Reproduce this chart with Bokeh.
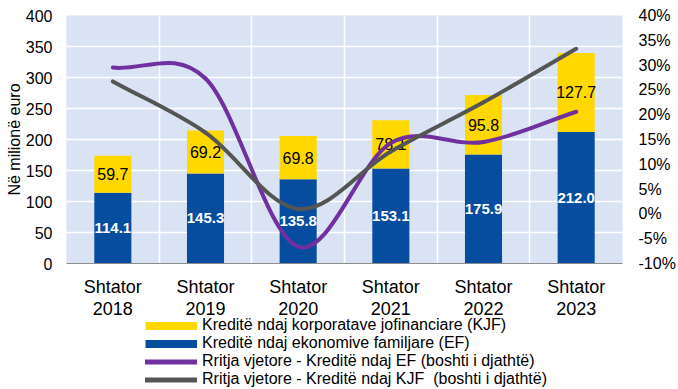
import numpy as np
from bokeh.plotting import figure
from bokeh.layouts import column
from bokeh.models import (ColumnDataSource, Range1d, LinearAxis, FixedTicker,
                          PrintfTickFormatter, Legend, LegendItem)
from bokeh.core.properties import value
from bokeh.embed import file_html
from bokeh.resources import INLINE

# ---- data ----
years = ["2018", "2019", "2020", "2021", "2022", "2023"]
month = "Shtator"
ef = [114.1, 145.3, 135.8, 153.1, 175.9, 212.0]        # Kredite ndaj ekonomive familjare
kjf = [59.7, 69.2, 69.8, 78.1, 95.8, 127.7]            # Kredite ndaj korporatave jofinanciare
growth_ef = [29.5, 27.3, -6.6, 14.3, 14.5, 20.6]       # % right axis
growth_kjf = [26.7, 16.4, 1.0, 12.6, 22.5, 33.3]       # % right axis
left_ticks = [0, 50, 100, 150, 200, 250, 300, 350, 400]
right_ticks = [-10, -5, 0, 5, 10, 15, 20, 25, 30, 35, 40]
legend_labels = ["Kreditë ndaj korporatave jofinanciare (KJF)",
                 "Kreditë ndaj ekonomive familjare (EF)",
                 "Rritja vjetore - Kreditë ndaj EF (boshti i djathtë)",
                 "Rritja vjetore - Kreditë ndaj KJF  (boshti i djathtë)"]

FONT = "Liberation Sans"
YELLOW = "#FFD800"
BLUE = "#064DA0"
PURPLE = "#7030A0"
GREY = "#555555"
BG = "#DAE3F3"

n = len(years)
xc = np.arange(n) + 0.5
ef_a = np.array(ef)
kjf_a = np.array(kjf)

p = figure(frame_width=556, frame_height=248, output_backend="svg", toolbar_location=None,
           x_range=Range1d(0, n), y_range=Range1d(0, 400),
           min_border_left=66, min_border_right=56, min_border_top=15, min_border_bottom=0)
p.background_fill_color = BG
p.border_fill_color = "white"
p.outline_line_color = None
p.extra_y_ranges = {"pct": Range1d(-10, 40)}

# bars
src = ColumnDataSource(dict(x=xc, ef=ef_a, tot=ef_a + kjf_a,
                            ef_mid=ef_a / 2, kjf_mid=ef_a + kjf_a / 2,
                            ef_lab=[f"{v:.1f}" for v in ef],
                            kjf_lab=[f"{v:.1f}" for v in kjf]))
p.vbar(x="x", top="ef", bottom=0, width=0.4, source=src, fill_color=BLUE, line_color=None)
p.vbar(x="x", top="tot", bottom="ef", width=0.4, source=src, fill_color=YELLOW, line_color=None)

p.text(x="x", y="ef_mid", text="ef_lab", source=src, text_align="center", text_baseline="middle",
       text_font=value(FONT), text_font_size="15px", text_font_style="bold", text_color="white")
p.text(x="x", y="kjf_mid", text="kjf_lab", source=src, text_align="center", text_baseline="middle",
       text_font=value(FONT), text_font_size="16px", text_color="black")


def smooth_segments(xs, ys):
    xs = list(map(float, xs)); ys = list(map(float, ys))
    m = len(xs)
    tx, ty = [], []
    for i in range(m):
        if i == 0:
            tx.append(xs[1] - xs[0]); ty.append(ys[1] - ys[0])
        elif i == m - 1:
            tx.append(xs[-1] - xs[-2]); ty.append(ys[-1] - ys[-2])
        else:
            tx.append((xs[i + 1] - xs[i - 1]) / 2); ty.append((ys[i + 1] - ys[i - 1]) / 2)
    d = dict(x0=[], y0=[], x1=[], y1=[], cx0=[], cy0=[], cx1=[], cy1=[])
    for i in range(m - 1):
        d["x0"].append(xs[i]); d["y0"].append(ys[i])
        d["x1"].append(xs[i + 1]); d["y1"].append(ys[i + 1])
        d["cx0"].append(xs[i] + tx[i] / 3); d["cy0"].append(ys[i] + ty[i] / 3)
        d["cx1"].append(xs[i + 1] - tx[i + 1] / 3); d["cy1"].append(ys[i + 1] - ty[i + 1] / 3)
    return ColumnDataSource(d)


p.bezier(x0="x0", y0="y0", x1="x1", y1="y1", cx0="cx0", cy0="cy0", cx1="cx1", cy1="cy1",
         source=smooth_segments(xc, growth_ef), line_color=PURPLE, line_width=4,
         line_cap="round", y_range_name="pct")
p.bezier(x0="x0", y0="y0", x1="x1", y1="y1", cx0="cx0", cy0="cy0", cx1="cx1", cy1="cy1",
         source=smooth_segments(xc, growth_kjf), line_color=GREY, line_width=4,
         line_cap="round", y_range_name="pct")

# axes
p.xaxis.ticker = FixedTicker(ticks=list(xc))
p.xaxis.major_label_overrides = {float(x): f"{month}\n{y}" for x, y in zip(xc, years)}
p.xaxis.major_label_text_font = FONT
p.xaxis.major_label_text_font_size = "18px"
p.xaxis.major_label_text_line_height = 1.1
p.xaxis.major_label_text_color = "black"
p.xaxis.major_label_standoff = 13
p.xaxis.axis_line_color = "#8C8C8C"
p.xaxis.axis_line_width = 1
p.xaxis.major_tick_line_color = None
p.xaxis.major_tick_out = 0
p.xaxis.minor_tick_line_color = None

p.yaxis.ticker = FixedTicker(ticks=left_ticks)
p.yaxis.axis_label = "Në milionë euro"
p.yaxis.axis_label_text_font = FONT
p.yaxis.axis_label_text_font_size = "16px"
p.yaxis.axis_label_text_font_style = "normal"
p.yaxis.axis_label_text_color = "black"
p.yaxis.axis_label_standoff = 0
p.yaxis.major_label_text_font = FONT
p.yaxis.major_label_text_font_size = "16px"
p.yaxis.major_label_text_color = "black"
p.yaxis.major_label_standoff = 14
p.yaxis.axis_line_color = None
p.yaxis.major_tick_line_color = None
p.yaxis.major_tick_out = 0
p.yaxis.minor_tick_line_color = None

ax2 = LinearAxis(y_range_name="pct", ticker=FixedTicker(ticks=right_ticks),
                 formatter=PrintfTickFormatter(format="%d%%"))
ax2.major_label_text_font = FONT
ax2.major_label_text_font_size = "16px"
ax2.major_label_text_color = "black"
ax2.major_label_standoff = 16
ax2.axis_line_color = None
ax2.major_tick_line_color = None
ax2.major_tick_out = 0
ax2.minor_tick_line_color = None
p.add_layout(ax2, "right")

# grid
p.xgrid.ticker = FixedTicker(ticks=[1, 2, 3, 4, 5])
p.ygrid.ticker = FixedTicker(ticks=left_ticks[1:])
p.xgrid.grid_line_color = "white"
p.ygrid.grid_line_color = "white"
p.xgrid.grid_line_width = 1.5
p.ygrid.grid_line_width = 1.5

# legend figure (dummy renderers, nothing drawn in the frame)
p2 = figure(width=678, height=72, output_backend="svg", toolbar_location=None,
            x_range=Range1d(0, 1), y_range=Range1d(0, 1),
            min_border=0, x_axis_location=None, y_axis_location=None,
            margin=(-5, 0, 0, 0))
p2.grid.visible = False
p2.outline_line_color = None
p2.background_fill_alpha = 0
p2.border_fill_alpha = 0
nan = [float("nan")]
r1 = p2.line(x=nan, y=nan, line_color=YELLOW, line_width=8, line_cap="butt")
r2 = p2.line(x=nan, y=nan, line_color=BLUE, line_width=8, line_cap="butt")
r3 = p2.line(x=nan, y=nan, line_color=PURPLE, line_width=5, line_cap="round")
r4 = p2.line(x=nan, y=nan, line_color=GREY, line_width=5, line_cap="round")
legend = Legend(items=[LegendItem(label=lab, renderers=[r]) for lab, r in
                       zip(legend_labels, [r1, r2, r3, r4])],
                location=(79, 0), orientation="vertical")
legend.padding = 0
legend.margin = 0
legend.spacing = 0
legend.glyph_width = 52
legend.glyph_height = 17
legend.label_height = 17
legend.label_standoff = 5
legend.label_text_font = FONT
legend.label_text_font_size = "16px"
legend.label_text_line_height = 1.1
legend.label_text_color = "black"
legend.border_line_color = None
legend.background_fill_alpha = 0
p2.add_layout(legend, "center")

layout = column(p, p2, spacing=0)
open("out.html", "w").write(file_html(layout, INLINE))
